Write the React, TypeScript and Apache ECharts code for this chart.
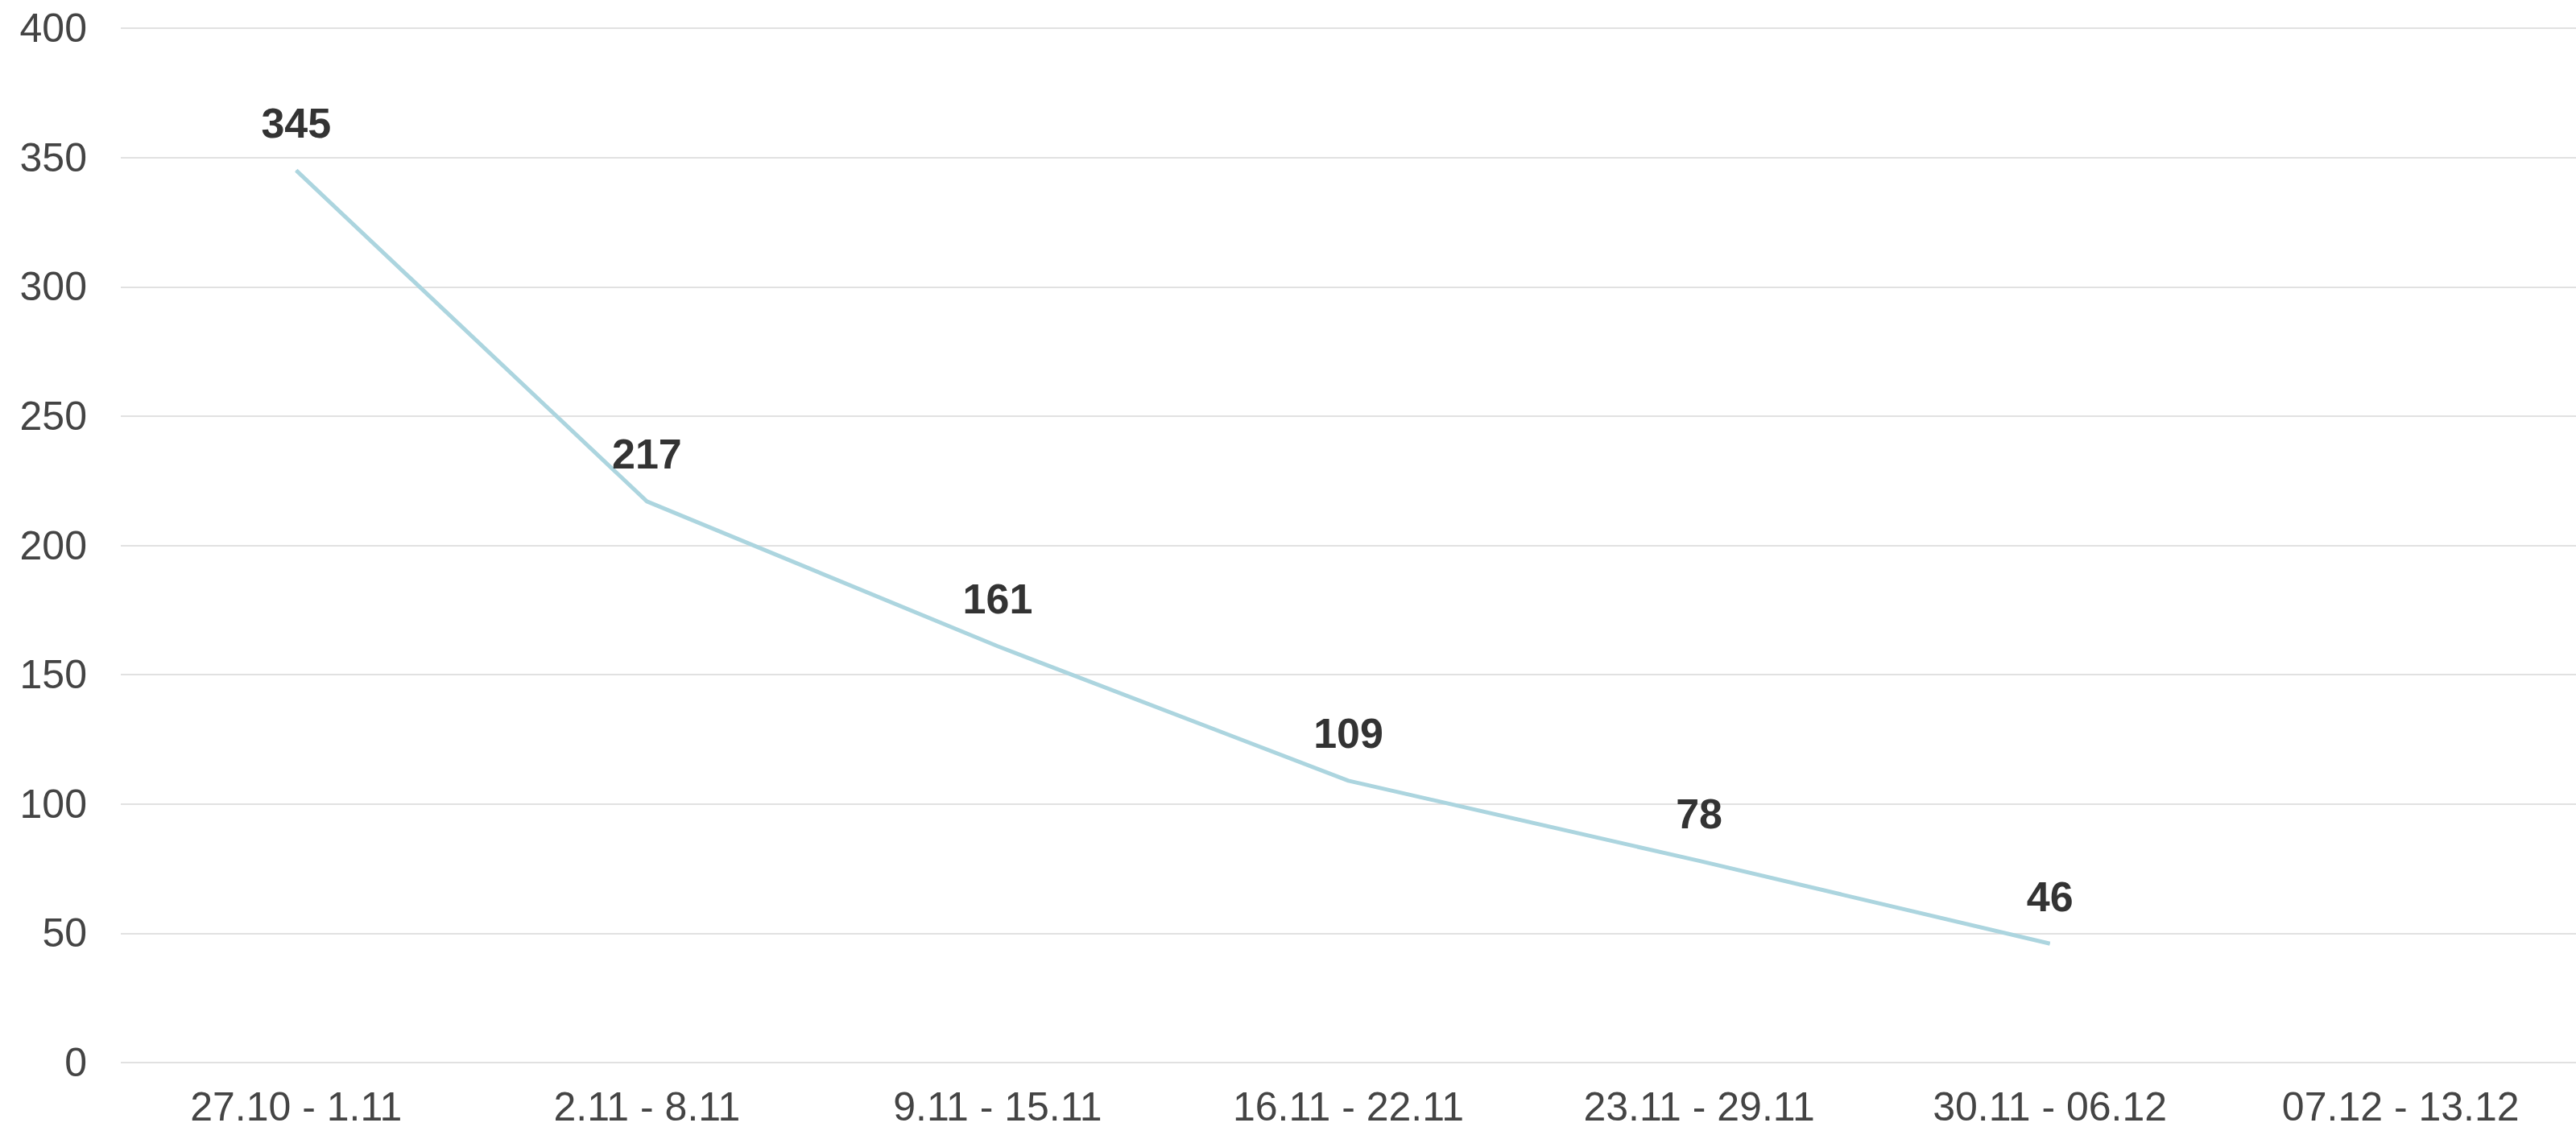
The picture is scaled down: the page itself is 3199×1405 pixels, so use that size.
import React, { useEffect, useRef } from "react";
import * as echarts from "echarts";

const categories = [
  "27.10 - 1.11",
  "2.11 - 8.11",
  "9.11 - 15.11",
  "16.11 - 22.11",
  "23.11 - 29.11",
  "30.11 - 06.12",
  "07.12 - 13.12",
];
const values: (number | null)[] = [345, 217, 161, 109, 78, 46, null];
const yMin = 0;
const yMax = 400;
const yInterval = 50;

const FONT = "'Liberation Sans', Arial, sans-serif";

export default function App() {
  const ref = useRef<HTMLDivElement>(null);
  useEffect(() => {
    if (!ref.current) return;
    const chart = echarts.init(ref.current, undefined, { renderer: "svg" });
    chart.setOption({
      animation: false,
      backgroundColor: "#ffffff",
      grid: { left: 150, top: 35, width: 3072, height: 1285, containLabel: false },
      xAxis: {
        type: "category",
        data: categories,
        boundaryGap: true,
        axisLine: { show: false },
        axisTick: { show: false },
        axisLabel: {
          color: "#444444",
          fontSize: 50,
          fontFamily: FONT,
          margin: 30,
          interval: 0,
        },
      },
      yAxis: {
        type: "value",
        min: yMin,
        max: yMax,
        interval: yInterval,
        axisLine: { show: false },
        axisTick: { show: false },
        splitLine: { lineStyle: { color: "#e1e1e1", width: 2 } },
        axisLabel: {
          color: "#444444",
          fontSize: 50,
          fontFamily: FONT,
          margin: 42,
        },
      },
      series: [
        {
          type: "line",
          data: values,
          symbol: "circle",
          symbolSize: 1,
          itemStyle: { color: "#acd5df" },
          lineStyle: { color: "#acd5df", width: 5 },
          label: {
            show: true,
            position: "top",
            distance: 32,
            color: "#333333",
            fontSize: 52,
            fontWeight: "bold",
            fontFamily: FONT,
          },
        },
      ],
    });
    return () => chart.dispose();
  }, []);
  return (
    <div
      ref={ref}
      style={{ position: "fixed", left: 0, top: 0, width: 3199, height: 1405, background: "#fff" }}
    />
  );
}
